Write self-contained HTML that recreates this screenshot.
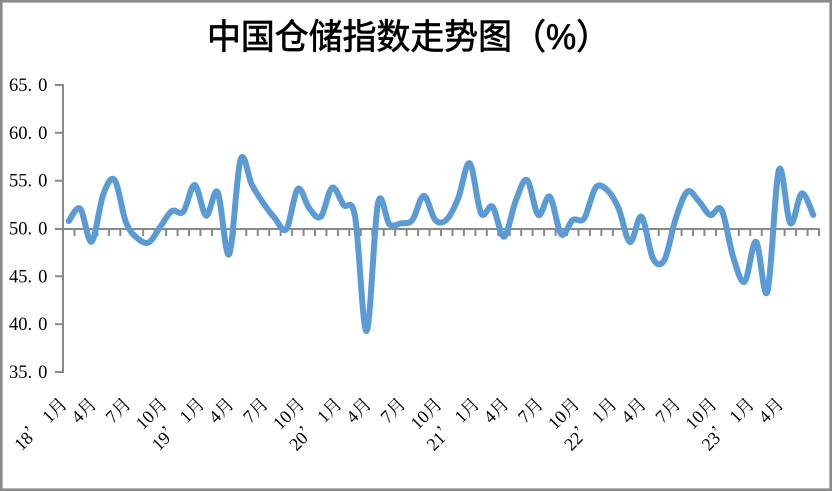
<!DOCTYPE html>
<html><head><meta charset="utf-8">
<style>
html,body{margin:0;padding:0;background:#fff;}
svg{display:block;}
</style></head>
<body>
<svg id="c" width="832" height="491" viewBox="0 0 832 491" xmlns="http://www.w3.org/2000/svg">
<rect x="0" y="0" width="832" height="491" fill="#fff"/>
<rect x="1.3" y="1.3" width="829.4" height="488.4" fill="none" stroke="#8a8a8a" stroke-width="2.6"/>
<text x="207" y="49" font-family="'Liberation Sans','Noto Sans CJK SC',sans-serif" font-size="35" font-weight="normal" fill="#000" stroke="#000" stroke-width="0.7" textLength="403" lengthAdjust="spacingAndGlyphs">中国仓储指数走势图（%）</text>
<g font-family="'Liberation Serif','Noto Serif CJK SC',serif" font-size="18.5" fill="#000">
<text x="9" y="91">65<tspan>.</tspan><tspan dx="6">0</tspan></text>
<text x="9" y="138.8">60<tspan>.</tspan><tspan dx="6">0</tspan></text>
<text x="9" y="186.7">55<tspan>.</tspan><tspan dx="6">0</tspan></text>
<text x="9" y="234.5">50<tspan>.</tspan><tspan dx="6">0</tspan></text>
<text x="9" y="282.3">45<tspan>.</tspan><tspan dx="6">0</tspan></text>
<text x="9" y="330.2">40<tspan>.</tspan><tspan dx="6">0</tspan></text>
<text x="9" y="378">35<tspan>.</tspan><tspan dx="6">0</tspan></text>
</g>
<g stroke="#898989" stroke-width="2" fill="none">
<line x1="63" y1="84" x2="63" y2="373"/>
<line x1="55" y1="85" x2="63" y2="85"/>
<line x1="55" y1="132.8" x2="63" y2="132.8"/>
<line x1="55" y1="180.7" x2="63" y2="180.7"/>
<line x1="55" y1="276.3" x2="63" y2="276.3"/>
<line x1="55" y1="324.2" x2="63" y2="324.2"/>
<line x1="55" y1="372" x2="63" y2="372"/>
<line x1="55" y1="229" x2="820" y2="229"/>
</g>
<g id="ticks" stroke="#898989" stroke-width="2"></g>
<path id="ln" d="" fill="none" stroke="#5b9bd5" stroke-width="6" stroke-linecap="round" stroke-linejoin="round"/>
<g id="xl" font-family="'Liberation Serif','Noto Serif CJK SC',serif" font-size="18" fill="#000"></g>
</svg>
<script>
(function(){
var NS="http://www.w3.org/2000/svg";
var ys=[221,208.7,241.7,195,180,222.3,238.3,242.3,226.7,211,211.7,185,215.7,192.3,254.3,159.7,185,203.3,218.3,229,189,208.3,216.7,187.7,205,216.7,331,203.3,224.3,223.3,220,195.7,220,219.5,198.3,163.3,213.3,206.7,236.7,201.7,180,215,196.7,234.3,220,218.3,187.7,190,208.3,242,216.7,258.3,260,218.3,191.7,201,215,210,256.7,281.7,241.7,291.7,170,223.3,193.3,215];
var w=(819-63)/66;
var pts=ys.map(function(y,i){return [63+w*(i+0.5),y];});
var n=pts.length;
var d="M"+pts[0][0].toFixed(2)+","+pts[0][1].toFixed(2);
for(var i=0;i<n-1;i++){
  var p0=pts[Math.max(i-1,0)],p1=pts[i],p2=pts[i+1],p3=pts[Math.min(i+2,n-1)];
  var c1x=p1[0]+(p2[0]-p0[0])/6,c1y=p1[1]+(p2[1]-p0[1])/6;
  var c2x=p2[0]-(p3[0]-p1[0])/6,c2y=p2[1]-(p3[1]-p1[1])/6;
  d+=" C"+c1x.toFixed(2)+","+c1y.toFixed(2)+" "+c2x.toFixed(2)+","+c2y.toFixed(2)+" "+p2[0].toFixed(2)+","+p2[1].toFixed(2);
}
document.getElementById("ln").setAttribute("d",d);
var tg=document.getElementById("ticks");
for(var k=1;k<=66;k++){
  var x=63+w*k;
  var l=document.createElementNS(NS,"line");
  l.setAttribute("x1",x.toFixed(2));l.setAttribute("x2",x.toFixed(2));
  l.setAttribute("y1","229");l.setAttribute("y2","236");
  tg.appendChild(l);
}
var xl=document.getElementById("xl");
var months=["1","4","7","10"];
for(var j=0;j<22;j++){
  var i=3*j;
  var m=months[j%4];
  var off,len=null;
  var ax, ay=405;
  var t=document.createElementNS(NS,"text");
  if(m==="1"){
    var yr=18+Math.floor(i/12);
    off=-0.5;len=66;
    var a=document.createElementNS(NS,"tspan");a.textContent=String(yr);
    var b=document.createElementNS(NS,"tspan");b.textContent="\u2019";
    b.setAttribute("font-family","'Noto Serif CJK SC','Noto Sans CJK SC',serif");
    var c=document.createElementNS(NS,"tspan");c.textContent=" 1\u6708";
    t.appendChild(a);t.appendChild(b);t.appendChild(c);
  } else if(m==="10"){t.textContent="10\u6708";off=-3.5;}
  else {t.textContent=m+"\u6708";off=-5.5;}
  ax=63+w*(i+0.5)+off;
  t.setAttribute("x",ax.toFixed(2));t.setAttribute("y",ay);
  t.setAttribute("text-anchor","end");
  t.setAttribute("transform","rotate(-45 "+ax.toFixed(2)+" "+ay+")");
  if(len){t.setAttribute("textLength",len);t.setAttribute("lengthAdjust","spacing");}
  xl.appendChild(t);
}
})();
</script>
</body></html>
